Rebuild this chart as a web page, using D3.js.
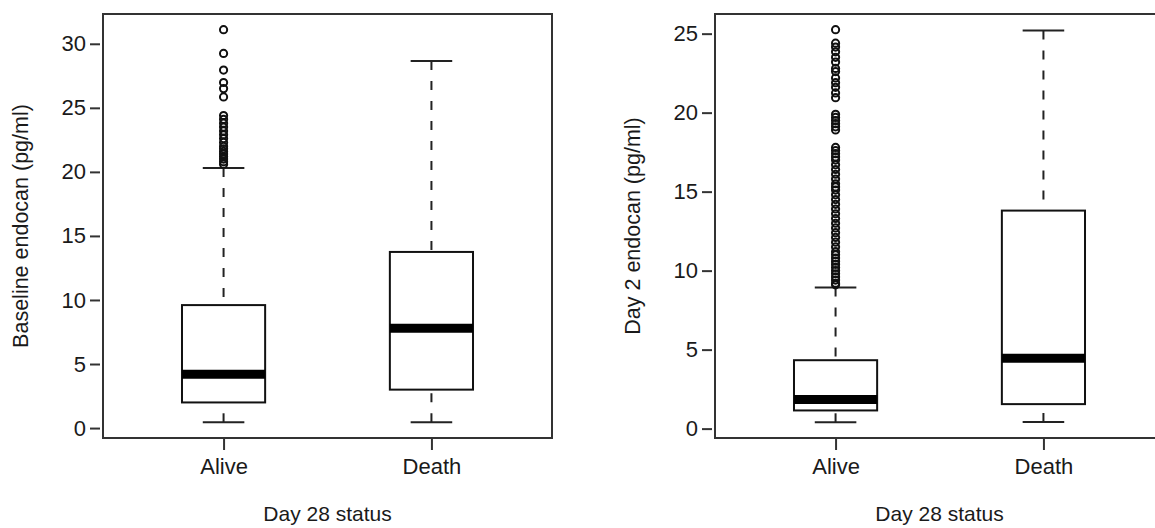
<!DOCTYPE html>
<html>
<head>
<meta charset="utf-8">
<script src="https://cdn.jsdelivr.net/npm/d3@7"></script>
<style>
  body { margin: 0; background: #fff; }
  text { font-family: "Liberation Sans", Arial, Helvetica, sans-serif; fill: #1a1a1a; }
</style>
</head>
<body>
<div class="chart"></div>
<script>
var svgWidth = 1155;
var svgHeight = 528;

// categories shared by both panels
var groups = ["Alive", "Death"];

// box statistics: [lower whisker, Q1, median, Q3, upper whisker]
var baselineStats = [
  [0.45, 2.0, 4.2, 9.6, 20.3],
  [0.45, 3.0, 7.8, 13.75, 28.65]
];
var baselineOutliers = [
  [20.6, 20.8, 21.0, 21.2, 21.4, 21.6, 21.8, 22.0, 22.3, 22.6, 22.9, 23.2,
   23.5, 23.8, 24.1, 24.4, 25.85, 26.5, 26.98, 27.95, 29.25, 31.1],
  []
];
var baselineTicks = [0, 5, 10, 15, 20, 25, 30];

var day2Stats = [
  [0.4, 1.15, 1.85, 4.33, 8.93],
  [0.42, 1.55, 4.45, 13.8, 25.2]
];
var day2Outliers = [
  [9.1, 9.2, 9.4, 9.6, 9.8, 10.0, 10.2, 10.4, 10.6, 10.8, 11.0, 11.2, 11.5,
   11.8, 12.1, 12.4, 12.7, 13.0, 13.3, 13.6, 13.9, 14.2, 14.5, 14.8, 15.1,
   15.3, 15.5, 15.8, 16.1, 16.4, 16.7, 17.0, 17.2, 17.4, 17.6, 17.8,
   18.9, 19.1, 19.3, 19.5, 19.7, 19.9,
   20.95, 21.25, 21.6, 21.9, 22.2, 22.6, 22.8, 23.2, 23.5, 23.85, 24.15, 24.4, 25.25],
  []
];
var day2Ticks = [0, 5, 10, 15, 20, 25];

var svg = d3.select(".chart")
  .append("svg")
  .attr("width", svgWidth)
  .attr("height", svgHeight);

// draws one R-style boxplot panel
function drawPanel(opts) {
  var g = svg.append("g");

  // R pads the x range 0.5..2.5 by 4% on each side
  var xScale = d3.scaleLinear()
    .domain([0.42, 2.58])
    .range([opts.left, opts.right]);

  // y domain like R: data extent with 4% padding
  var allVals = d3.merge(opts.stats.concat(opts.outliers));
  var lo = d3.min(allVals), hi = d3.max(allVals);
  var pad = (hi - lo) * 0.04;
  var yScale = d3.scaleLinear()
    .domain([lo - pad, hi + pad])
    .range([438, 14]);

  var boxHalf = 0.2 * (xScale(1) - xScale(0));
  var capHalf = boxHalf / 2;

  // frame
  g.append("rect")
    .attr("x", opts.left)
    .attr("y", 14)
    .attr("width", opts.right - opts.left)
    .attr("height", 424)
    .attr("fill", "none")
    .attr("stroke", "#333")
    .attr("stroke-width", 2);

  // y axis ticks
  var leftAxis = d3.axisLeft(yScale)
    .tickValues(opts.ticks)
    .tickSize(10)
    .tickPadding(4)
    .tickFormat(d3.format("d"));
  var yAxis = g.append("g")
    .attr("transform", `translate(${opts.left - 3}, 0)`)
    .call(leftAxis);
  yAxis.select(".domain").remove();
  yAxis.selectAll("line").attr("stroke", "#333").attr("stroke-width", 2);
  yAxis.selectAll("text")
    .style("font-size", "22px")
    .style("font-family", "'Liberation Sans', Arial, sans-serif")
    .attr("fill", "#1a1a1a");

  // x axis ticks
  var bottomAxis = d3.axisBottom(xScale)
    .tickValues([1, 2])
    .tickSize(11)
    .tickPadding(8)
    .tickFormat((d, i) => groups[i]);
  var xAxis = g.append("g")
    .attr("transform", "translate(0, 439)")
    .call(bottomAxis);
  xAxis.select(".domain").remove();
  xAxis.selectAll("line").attr("stroke", "#333").attr("stroke-width", 2);
  xAxis.selectAll("text")
    .style("font-size", "22px")
    .style("font-family", "'Liberation Sans', Arial, sans-serif")
    .attr("fill", "#1a1a1a");

  // axis titles
  g.append("text")
    .attr("x", (xScale(1) + xScale(2)) / 2)
    .attr("y", 521)
    .attr("text-anchor", "middle")
    .style("font-size", "21px")
    .text("Day 28 status");

  g.append("text")
    .attr("transform", `translate(${opts.titleX}, ${yScale((lo + hi) / 2)}) rotate(-90)`)
    .attr("text-anchor", "middle")
    .style("font-size", "21.5px")
    .text(opts.yTitle);

  var boxes = g.selectAll(".box")
    .data(opts.stats)
    .enter()
    .append("g")
    .attr("class", "box");

  // whiskers, drawn from the end toward the box as R does
  boxes.append("line")
    .attr("x1", (d, i) => xScale(i + 1))
    .attr("x2", (d, i) => xScale(i + 1))
    .attr("y1", d => yScale(d[0]))
    .attr("y2", d => yScale(d[1]))
    .attr("stroke", "#222")
    .attr("stroke-width", 2)
    .attr("stroke-dasharray", "9,11");
  boxes.append("line")
    .attr("x1", (d, i) => xScale(i + 1))
    .attr("x2", (d, i) => xScale(i + 1))
    .attr("y1", d => yScale(d[4]))
    .attr("y2", d => yScale(d[3]))
    .attr("stroke", "#222")
    .attr("stroke-width", 2)
    .attr("stroke-dasharray", "9,11");

  // staples
  [0, 4].forEach(function(k) {
    boxes.append("line")
      .attr("x1", (d, i) => xScale(i + 1) - capHalf)
      .attr("x2", (d, i) => xScale(i + 1) + capHalf)
      .attr("y1", d => yScale(d[k]))
      .attr("y2", d => yScale(d[k]))
      .attr("stroke", "#222")
      .attr("stroke-width", 2);
  });

  // box
  boxes.append("rect")
    .attr("x", (d, i) => xScale(i + 1) - boxHalf)
    .attr("width", boxHalf * 2)
    .attr("y", d => yScale(d[3]))
    .attr("height", d => yScale(d[1]) - yScale(d[3]))
    .attr("fill", "#fff")
    .attr("stroke", "#111")
    .attr("stroke-width", 2);

  // median
  boxes.append("line")
    .attr("x1", (d, i) => xScale(i + 1) - boxHalf)
    .attr("x2", (d, i) => xScale(i + 1) + boxHalf)
    .attr("y1", d => yScale(d[2]))
    .attr("y2", d => yScale(d[2]))
    .attr("stroke", "#000")
    .attr("stroke-width", 9);

  // outliers
  opts.outliers.forEach(function(list, i) {
    g.selectAll(".out" + i)
      .data(list)
      .enter()
      .append("circle")
      .attr("class", "out" + i)
      .attr("cx", xScale(i + 1))
      .attr("cy", d => yScale(d))
      .attr("r", 3.6)
      .attr("fill", "none")
      .attr("stroke", "#111")
      .attr("stroke-width", 2);
  });
}

drawPanel({
  left: 103, right: 552,
  stats: baselineStats, outliers: baselineOutliers, ticks: baselineTicks,
  titleX: 28, yTitle: "Baseline endocan (pg/ml)"
});

drawPanel({
  left: 715, right: 1164,
  stats: day2Stats, outliers: day2Outliers, ticks: day2Ticks,
  titleX: 640, yTitle: "Day 2 endocan (pg/ml)"
});
</script>
</body>
</html>
